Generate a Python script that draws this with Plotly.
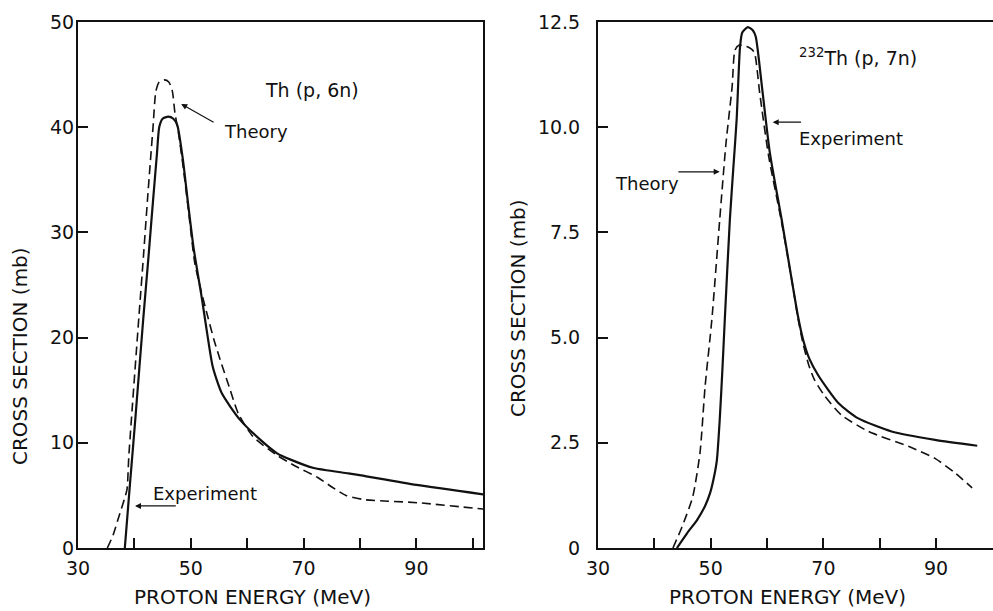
import plotly.graph_objects as go

# Th(p,6n) — proton energy (MeV) vs cross section (mb)
th6_exp_e = [38.3, 39.2, 40.2, 41.6, 42.5, 43.3, 44.0, 44.4, 45.0, 46.0, 46.9, 47.6,
             48.6, 49.5, 50.5, 52.0, 52.9, 53.9, 55.5, 58.7, 62.3, 65.3, 67.7, 71.8, 77.9, 80.2,
             90.0, 101.9]
th6_exp_xs = [0.0, 6.0, 12.5, 22.0, 27.7, 33.0, 37.5, 40.0, 40.8, 41.0, 40.8, 40.2,
              36.9, 32.8, 28.5, 23.6, 20.4, 17.2, 14.7, 12.2, 10.3, 9.0, 8.4, 7.6, 7.1, 6.9,
              6.0, 5.1]
th6_th_e = [35.2, 36.2, 37.2, 38.2, 38.7, 39.0, 40.8, 41.6, 42.4, 43.3, 43.8, 44.4, 45.3, 46.1,
            46.7, 47.2, 47.8, 48.7, 49.6, 50.7, 51.8, 53.0, 54.1, 55.2, 57.0, 58.4, 61.0, 65.3,
            68.5, 72.5, 75.0, 77.5, 80.7, 85.0, 90.3, 101.9]
th6_th_xs = [0.0, 1.2, 2.9, 4.6, 5.6, 8.65, 22.0, 27.7, 33.7, 40.0, 43.4, 44.3, 44.5, 44.3,
             43.5, 41.3, 39.5, 36.0, 32.0, 27.1, 24.5, 22.0, 19.8, 17.9, 15.0, 12.8, 10.6, 8.8,
             7.8, 6.7, 5.8, 5.0, 4.6, 4.45, 4.3, 3.7]

# 232Th(p,7n)
th7_exp_e = [44.0, 45.8, 47.6, 49.0, 49.9, 50.6, 51.1, 51.6, 52.1, 52.5, 53.4, 54.0, 54.6, 55.2,
             55.6, 56.6, 57.5, 58.0, 59.1, 60.5, 62.6, 64.6, 65.5, 66.4, 67.5, 69.1, 72.7, 76.2,
             82.1, 89.8, 97.3]
th7_exp_xs = [0.0, 0.35, 0.67, 1.0, 1.31, 1.7, 2.09, 3.04, 4.3, 5.42, 7.8, 9.0, 10.17, 11.9,
              12.25, 12.38, 12.3, 12.15, 10.96, 9.39, 7.8, 6.2, 5.5, 4.95, 4.5, 4.1, 3.44, 3.08,
              2.77, 2.57, 2.43]
th7_th_e = [43.3, 44.9, 46.8, 48.1, 49.0, 50.2, 51.6, 52.7, 53.8, 54.3, 55.0, 56.4, 57.3, 57.8,
            58.7, 60.3, 62.5, 64.6, 65.5, 66.4, 67.4, 68.4, 70.2, 73.2, 78.0, 85.2, 89.8, 93.4,
            96.4]
th7_th_xs = [0.0, 0.5, 1.21, 2.26, 3.83, 5.42, 7.8, 9.6, 10.96, 11.83, 11.95, 11.92, 11.85, 11.76,
             10.81, 9.3, 7.8, 6.2, 5.45, 4.85, 4.35, 4.0, 3.62, 3.16, 2.77, 2.41, 2.13, 1.78,
             1.43]

x_ticks = [30, 40, 50, 60, 70, 80, 90, 100]
x_ticktext = ["30", "", "50", "", "70", "", "90", ""]
y1_ticks = [0, 10, 20, 30, 40, 50]
y1_ticktext = ["0", "10", "20", "30", "40", "50"]
y2_ticks = [0, 2.5, 5.0, 7.5, 10.0, 12.5]
y2_ticktext = ["0", "2.5", "5.0", "7.5", "10.0", "12.5"]

X_TITLE = "PROTON ENERGY (MeV)"
Y_TITLE = "CROSS SECTION (mb)"

INK = "#111111"
FONT = "DejaVu Sans"

fig = go.Figure()

solid = dict(color=INK, width=2.2, shape="spline", smoothing=0.6)
dashed = dict(color=INK, width=1.6, dash="9px,5px", shape="spline", smoothing=0.6)

fig.add_trace(go.Scatter(x=th6_exp_e, y=th6_exp_xs, mode="lines", line=solid,
                         name="Experiment", xaxis="x", yaxis="y"))
fig.add_trace(go.Scatter(x=th6_th_e, y=th6_th_xs, mode="lines", line=dashed,
                         name="Theory", xaxis="x", yaxis="y"))
fig.add_trace(go.Scatter(x=th7_exp_e, y=th7_exp_xs, mode="lines", line=solid,
                         name="Experiment", xaxis="x2", yaxis="y2"))
fig.add_trace(go.Scatter(x=th7_th_e, y=th7_th_xs, mode="lines", line=dashed,
                         name="Theory", xaxis="x2", yaxis="y2"))

W, H = 993, 611
common_x = dict(tickmode="array", tickvals=x_ticks, ticktext=x_ticktext,
                ticks="inside", ticklen=10, tickwidth=1.5, tickcolor=INK,
                showline=True, linecolor=INK, linewidth=2, showgrid=False, zeroline=False,
                automargin=False,
                tickfont=dict(family=FONT, size=19, color=INK), ticklabelstandoff=2)
common_y = dict(ticks="inside", ticklen=10, tickwidth=1.5, tickcolor=INK,
                showline=True, linecolor=INK, linewidth=2, showgrid=False, zeroline=False,
                automargin=False,
                tickfont=dict(family=FONT, size=19, color=INK))

fig.update_layout(
    width=W, height=H,
    margin=dict(l=0, r=0, t=22, b=63),
    paper_bgcolor="white", plot_bgcolor="white",
    showlegend=False,
    xaxis=dict(common_x, domain=[78 / W, 483 / W], range=[30, 101.8], mirror=True, anchor="y"),
    yaxis=dict(common_y, domain=[0, 1], range=[0, 50], tickmode="array", tickvals=y1_ticks,
               ticktext=y1_ticktext, mirror=True, anchor="x", ticklabelstandoff=-2),
    xaxis2=dict(common_x, domain=[598 / W, 1.0], range=[30, 100.1], mirror=True, anchor="y2"),
    yaxis2=dict(common_y, domain=[0, 1], range=[0, 12.5], tickmode="array", tickvals=y2_ticks,
                ticktext=y2_ticktext, anchor="x2", ticklabelstandoff=12),
)

txt = dict(family=FONT, size=18, color=INK)
ttl = dict(family=FONT, size=20, color=INK)
arrow = dict(showarrow=True, arrowhead=2, arrowsize=1, arrowwidth=1.2, arrowcolor=INK, text="")

annotations = [
    # axis titles
    dict(xref="paper", yref="paper", x=252 / W, y=-62 / 526, text=X_TITLE, showarrow=False,
         font=ttl, xanchor="center", yanchor="bottom", borderpad=0),
    dict(xref="paper", yref="paper", x=787 / W, y=-62 / 526, text=X_TITLE, showarrow=False,
         font=ttl, xanchor="center", yanchor="bottom", borderpad=0),
    dict(xref="paper", yref="paper", x=20 / W, y=(548 - 356) / 526, text=Y_TITLE, showarrow=False,
         font=ttl, textangle=-90, xanchor="center", yanchor="middle"),
    dict(xref="paper", yref="paper", x=518 / W, y=(548 - 308) / 526, text=Y_TITLE, showarrow=False,
         font=ttl, textangle=-90, xanchor="center", yanchor="middle"),
    # left panel
    dict(xref="x", yref="y", x=71.5, y=43.5, text="Th (p, 6n)", showarrow=False,
         font=dict(txt, size=19)),
    dict(xref="x", yref="y", x=55.5, y=39.6, text="Theory", showarrow=False, font=txt, xanchor="left"),
    dict(arrow, xref="x", yref="y", axref="x", ayref="y", x=48.3, y=42.2, ax=54.3, ay=40.4),
    dict(xref="x", yref="y", x=43.0, y=5.2, text="Experiment", showarrow=False, font=txt, xanchor="left"),
    dict(arrow, xref="x", yref="y", axref="x", ayref="y", x=40.1, y=4.0, ax=47.6, ay=4.0),
    # right panel
    dict(xref="x2", yref="y2", x=65.4, y=11.67, text="<sup>232</sup>Th (p, 7n)", showarrow=False,
         font=dict(txt, size=19), xanchor="left"),
    dict(xref="x2", yref="y2", x=65.4, y=9.74, text="Experiment", showarrow=False, font=txt,
         xanchor="left"),
    dict(arrow, xref="x2", yref="y2", axref="x2", ayref="y2", x=61.0, y=10.12, ax=66.3, ay=10.12),
    dict(xref="x2", yref="y2", x=32.6, y=8.67, text="Theory", showarrow=False, font=txt,
         xanchor="left"),
    dict(arrow, xref="x2", yref="y2", axref="x2", ayref="y2", x=51.6, y=8.94, ax=44.0, ay=8.94),
]
fig.update_layout(annotations=annotations)

fig.write_html("out.html")
